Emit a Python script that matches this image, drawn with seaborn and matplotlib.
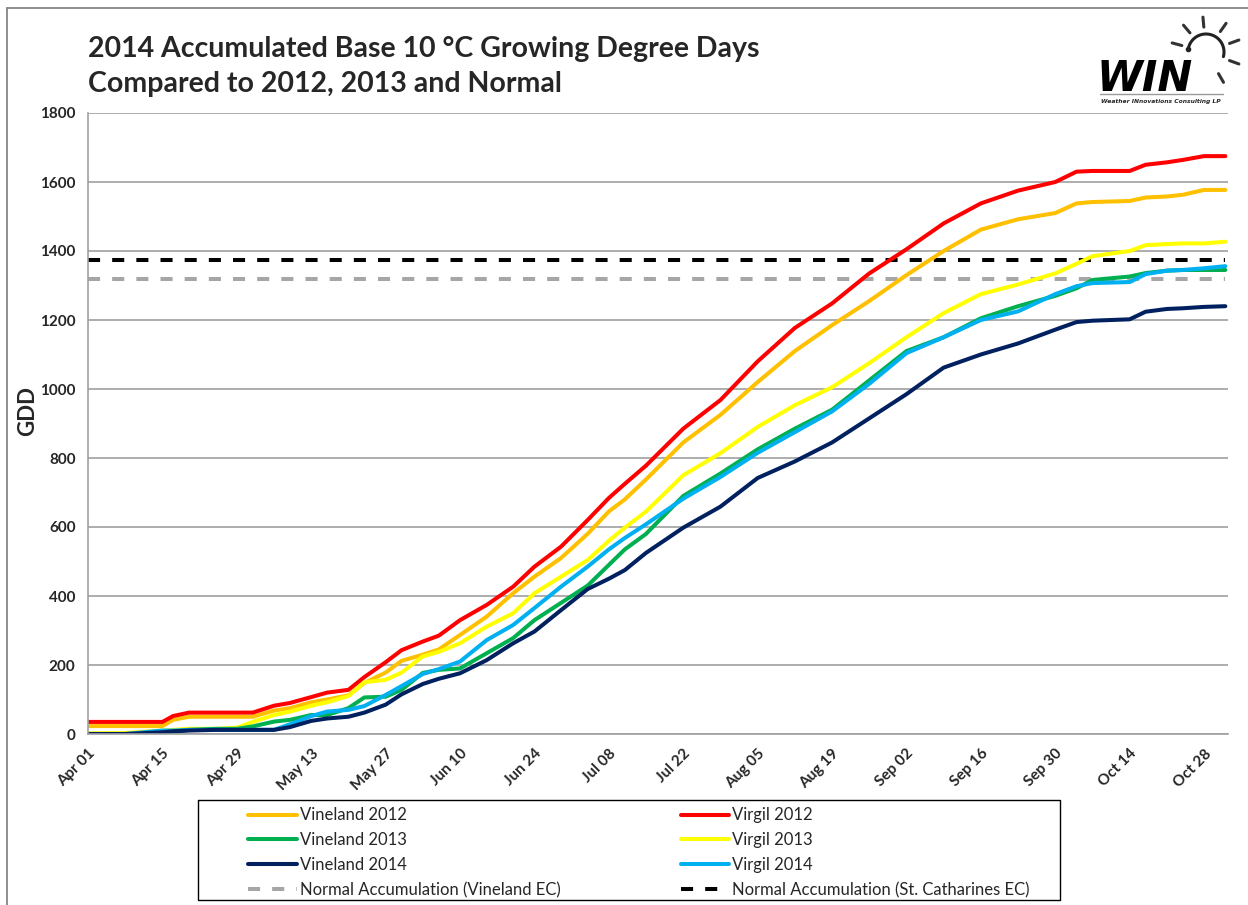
import matplotlib
matplotlib.use("Agg")
import matplotlib.pyplot as plt
from matplotlib.lines import Line2D
import seaborn as sns
import pandas as pd
import numpy as np

# day offsets from Apr 01 2014
day = [0, 7, 14, 16, 19, 24, 28, 31, 35, 38, 42, 45, 49, 52, 56, 59, 63, 66, 70, 75,
       80, 84, 89, 94, 98, 101, 105, 112, 119, 126, 133, 140, 147, 154, 161, 168, 175,
       182, 186, 189, 196, 199, 203, 206, 210, 214]

virgil_2012 = [35, 35, 35, 52, 62, 62, 62, 62, 82, 90, 107, 120, 128, 165, 208, 243, 268, 285, 330, 374,
               427, 485, 543, 620, 684, 725, 778, 885, 968, 1080, 1177, 1248, 1335, 1405, 1480, 1538, 1575,
               1600, 1630, 1632, 1632, 1650, 1657, 1664, 1675, 1675]
vineland_2012 = [23, 23, 23, 41, 50, 50, 50, 50, 68, 75, 92, 100, 112, 148, 178, 212, 230, 245, 287, 340,
                 408, 456, 510, 580, 645, 680, 738, 845, 925, 1020, 1110, 1185, 1255, 1330, 1400, 1462, 1492,
                 1510, 1538, 1542, 1545, 1555, 1558, 1563, 1577, 1577]
virgil_2013 = [2, 3, 10, 12, 15, 15, 18, 35, 55, 65, 82, 92, 110, 150, 157, 178, 225, 238, 263, 311,
               350, 408, 456, 504, 560, 598, 645, 750, 814, 890, 953, 1005, 1075, 1150, 1220, 1275, 1303,
               1335, 1363, 1385, 1400, 1417, 1420, 1422, 1422, 1427]
virgil_2014 = [0, 0, 10, 10, 12, 12, 12, 12, 12, 28, 52, 65, 70, 81, 113, 139, 174, 188, 210, 272,
               316, 365, 427, 485, 535, 568, 608, 682, 745, 815, 875, 935, 1015, 1104, 1150, 1200, 1225,
               1275, 1298, 1307, 1310, 1333, 1343, 1345, 1350, 1356]
vineland_2013 = [0, 0, 0, 5, 12, 15, 15, 22, 36, 41, 55, 55, 75, 106, 108, 128, 177, 186, 190, 234,
                 278, 330, 380, 430, 490, 535, 580, 690, 755, 825, 885, 940, 1025, 1110, 1150, 1205, 1240,
                 1270, 1292, 1316, 1326, 1336, 1343, 1345, 1345, 1345]
vineland_2014 = [0, 0, 5, 8, 10, 12, 12, 12, 12, 20, 38, 45, 50, 62, 85, 115, 145, 160, 176, 214,
                 263, 297, 359, 420, 450, 475, 525, 598, 659, 742, 790, 845, 915, 985, 1062, 1100, 1132,
                 1172, 1194, 1198, 1202, 1224, 1232, 1234, 1238, 1240]

normal_vineland = 1320
normal_stcath = 1375

series = {
    "Vineland 2012": vineland_2012,
    "Virgil 2012": virgil_2012,
    "Vineland 2013": vineland_2013,
    "Virgil 2013": virgil_2013,
    "Vineland 2014": vineland_2014,
    "Virgil 2014": virgil_2014,
}
colors = {
    "Vineland 2012": "#FFC000",
    "Virgil 2012": "#FF0000",
    "Vineland 2013": "#00B050",
    "Virgil 2013": "#FFFF00",
    "Vineland 2014": "#002060",
    "Virgil 2014": "#00B0F0",
}
draw_order = ["Vineland 2012", "Virgil 2012", "Virgil 2013", "Vineland 2013", "Virgil 2014", "Vineland 2014"]

start = pd.Timestamp("2014-04-01")
dates = start + pd.to_timedelta(day, unit="D")

rows = []
for name, vals in series.items():
    for d, v in zip(dates, vals):
        rows.append({"date": d, "gdd": v, "series": name})
df = pd.DataFrame(rows)

sns.set_style("white")
plt.rcParams["font.family"] = ["Lato", "DejaVu Sans"]

W, H = 1248, 905
fig = plt.figure(figsize=(W / 100, H / 100), dpi=100)
ax = fig.add_axes([88 / W, 1 - 734 / H, (1228 - 88) / W, (734 - 113) / H])

lw = 2.9
dash = (0, (3, 3))

# normals
norm_df = pd.DataFrame({"date": [start, start + pd.Timedelta(days=214)]})
norm_df["vineland"] = normal_vineland
norm_df["stcath"] = normal_stcath
sns.lineplot(data=norm_df, x="date", y="vineland", ax=ax, color="#A6A6A6", lw=lw, linestyle=dash)
sns.lineplot(data=norm_df, x="date", y="stcath", ax=ax, color="black", lw=lw, linestyle=dash)

sns.lineplot(data=df, x="date", y="gdd", hue="series", hue_order=draw_order,
             palette=colors, lw=lw, ax=ax, legend=False, estimator=None)

ax.set_xlim(start, start + pd.Timedelta(days=214.5))
ax.set_ylim(0, 1800)
ax.set_yticks(range(0, 1801, 200))
tick_dates = [start + pd.Timedelta(days=14 * i) for i in range(16)]
ax.set_xticks(tick_dates)
ax.set_xticklabels([d.strftime("%b %d") for d in tick_dates], rotation=45, ha="right",
                   rotation_mode="anchor", fontsize=11, fontweight="bold")
for lab in ax.get_yticklabels():
    lab.set_fontsize(11)
    lab.set_fontweight("bold")

ax.grid(axis="y", color="#A0A0A0", lw=1.2)
ax.grid(axis="x", visible=False)
for s in ["top", "right"]:
    ax.spines[s].set_visible(False)
for s in ["left", "bottom"]:
    ax.spines[s].set_color("#A0A0A0")
    ax.spines[s].set_linewidth(1.2)
ax.tick_params(axis="both", direction="out", length=6, width=1.2, color="#A0A0A0", pad=3)
ax.set_xlabel("")
ax.set_ylabel("GDD", fontsize=16, fontweight="bold")
ax.yaxis.set_label_coords(-0.044, 0.52)

# title
fig.text(88 / W, 1 - 57 / H, "2014 Accumulated Base 10 °C Growing Degree Days",
         fontsize=20.5, fontweight="bold", va="baseline", ha="left")
fig.text(88 / W, 1 - 92 / H, "Compared to 2012, 2013 and Normal",
         fontsize=20.5, fontweight="bold", va="baseline", ha="left")

# legend
leg_order = ["Vineland 2012", "Vineland 2013", "Vineland 2014", "Normal Accumulation (Vineland EC)",
             "Virgil 2012", "Virgil 2013", "Virgil 2014", "Normal Accumulation (St. Catharines EC)"]
handles = []
for name in leg_order:
    if name in colors:
        handles.append(Line2D([], [], color=colors[name], lw=lw))
    elif "Vineland" in name:
        handles.append(Line2D([], [], color="#A6A6A6", lw=lw, linestyle=dash))
    else:
        handles.append(Line2D([], [], color="black", lw=lw, linestyle=dash))
ax.legend(handles, leg_order, ncol=2, loc="upper left", bbox_to_anchor=(240 / W, 1 - 799 / H),
          bbox_transform=fig.transFigure, frameon=False, borderpad=0, fontsize=12,
          handlelength=2.9, handletextpad=0.2, labelspacing=0.53, columnspacing=7.2)

# overlay in pixel coordinates for frame, legend box and logo
ov = fig.add_axes([0, 0, 1, 1])
ov.set_xlim(0, W)
ov.set_ylim(H, 0)
ov.axis("off")
ov.patch.set_alpha(0)
ov.plot([7, 7], [8, H], color="#868686", lw=1.3)
ov.plot([7, W], [8, 8], color="#868686", lw=1.3)
ov.plot([198, 1060, 1060, 198, 198], [800, 800, 900, 900, 800], color="black", lw=1.0)

# WIN logo
ov.text(1097, 91, "WIN", fontsize=30, fontweight="heavy", fontstyle="italic",
        family="DejaVu Sans", color="black", ha="left", va="baseline")
cx, cy, r = 1206, 52, 18
a = np.radians(np.linspace(170, -15, 60))
ov.plot(cx + r * np.cos(a), cy - r * np.sin(a), color="#222222", lw=2.2)
ov.plot([cx + r * np.cos(np.radians(170))], [cy - r * np.sin(np.radians(170))], "o",
        color="#222222", ms=3)
for ang in [165, 130, 95, 55, 20, -20, -60]:
    t = np.radians(ang)
    ov.plot([cx + 25 * np.cos(t), cx + 35 * np.cos(t)], [cy - 25 * np.sin(t), cy - 35 * np.sin(t)],
            color="#333333", lw=2.2, solid_capstyle="round")
ov.plot([1100, 1223], [94, 94], color="#9A9A9A", lw=1)
ov.text(1161, 101, "Weather INnovations Consulting LP", fontsize=4.3, fontweight="bold",
        fontstyle="italic", family="DejaVu Sans", ha="center", va="center")

fig.savefig("out.png", dpi=100)
